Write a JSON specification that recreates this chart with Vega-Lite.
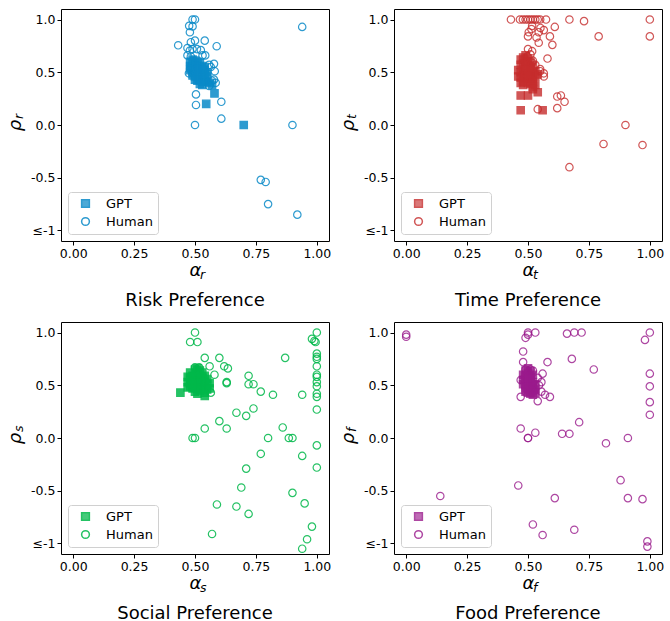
{
"$schema": "https://vega.github.io/schema/vega-lite/v6.json",
"padding": {"left": 6, "top": 8, "right": 2, "bottom": 0},
"columns": 2,
"spacing": {"row": 11, "column": 7},
"config": {
  "font": "DejaVu Sans",
  "view": {"stroke": "black", "strokeWidth": 1},
  "axis": {"domain": false, "grid": false, "tickColor": "black", "tickSize": 4, "tickWidth": 1, "labelColor": "black", "labelFontSize": 12.5, "labelPadding": 2, "titleColor": "black", "titleFontSize": 18, "titleFontWeight": "normal", "titleFontStyle": "italic"},
  "axisX": {"titlePadding": 2},
  "axisY": {"titlePadding": 6},
  "legend": {"orient": "bottom-left", "offset": 7, "strokeColor": "#d0d0d0", "fillColor": "white", "cornerRadius": 3, "padding": 5, "labelFontSize": 13, "labelColor": "black", "symbolSize": 60, "rowPadding": 3, "labelOffset": 14, "symbolOffset": 6},
  "title": {"orient": "bottom", "fontSize": 18, "fontWeight": "normal", "color": "black", "offset": 10}
},
"datasets": {"pts": [
{"p":"risk","g":"GPT","a":0.48,"r":0.60},{"p":"risk","g":"GPT","a":0.49,"r":0.62},{"p":"risk","g":"GPT","a":0.50,"r":0.61},{"p":"risk","g":"GPT","a":0.51,"r":0.60},{"p":"risk","g":"GPT","a":0.52,"r":0.59},{"p":"risk","g":"GPT","a":0.48,"r":0.56},{"p":"risk","g":"GPT","a":0.49,"r":0.55},{"p":"risk","g":"GPT","a":0.50,"r":0.57},{"p":"risk","g":"GPT","a":0.51,"r":0.56},{"p":"risk","g":"GPT","a":0.52,"r":0.55},{"p":"risk","g":"GPT","a":0.53,"r":0.56},{"p":"risk","g":"GPT","a":0.54,"r":0.55},{"p":"risk","g":"GPT","a":0.48,"r":0.52},{"p":"risk","g":"GPT","a":0.49,"r":0.50},{"p":"risk","g":"GPT","a":0.50,"r":0.51},{"p":"risk","g":"GPT","a":0.51,"r":0.52},{"p":"risk","g":"GPT","a":0.52,"r":0.50},{"p":"risk","g":"GPT","a":0.53,"r":0.51},{"p":"risk","g":"GPT","a":0.54,"r":0.52},{"p":"risk","g":"GPT","a":0.55,"r":0.50},{"p":"risk","g":"GPT","a":0.49,"r":0.47},{"p":"risk","g":"GPT","a":0.50,"r":0.46},{"p":"risk","g":"GPT","a":0.51,"r":0.47},{"p":"risk","g":"GPT","a":0.52,"r":0.46},{"p":"risk","g":"GPT","a":0.53,"r":0.45},{"p":"risk","g":"GPT","a":0.54,"r":0.47},{"p":"risk","g":"GPT","a":0.55,"r":0.46},{"p":"risk","g":"GPT","a":0.50,"r":0.43},{"p":"risk","g":"GPT","a":0.51,"r":0.42},{"p":"risk","g":"GPT","a":0.52,"r":0.43},{"p":"risk","g":"GPT","a":0.53,"r":0.41},{"p":"risk","g":"GPT","a":0.54,"r":0.42},{"p":"risk","g":"GPT","a":0.55,"r":0.41},{"p":"risk","g":"GPT","a":0.52,"r":0.39},{"p":"risk","g":"GPT","a":0.53,"r":0.38},{"p":"risk","g":"GPT","a":0.56,"r":0.40},{"p":"risk","g":"GPT","a":0.57,"r":0.38},{"p":"risk","g":"GPT","a":0.51,"r":0.49},{"p":"risk","g":"GPT","a":0.50,"r":0.53},{"p":"risk","g":"GPT","a":0.53,"r":0.48},{"p":"risk","g":"GPT","a":0.546,"r":0.20},{"p":"risk","g":"GPT","a":0.58,"r":0.30},{"p":"risk","g":"GPT","a":0.70,"r":0.0},
{"p":"risk","g":"Human","a":0.49,"r":1.0},{"p":"risk","g":"Human","a":0.50,"r":1.0},{"p":"risk","g":"Human","a":0.476,"r":0.94},{"p":"risk","g":"Human","a":0.49,"r":0.935},{"p":"risk","g":"Human","a":0.479,"r":0.88},{"p":"risk","g":"Human","a":0.431,"r":0.756},{"p":"risk","g":"Human","a":0.483,"r":0.785},{"p":"risk","g":"Human","a":0.50,"r":0.80},{"p":"risk","g":"Human","a":0.54,"r":0.80},{"p":"risk","g":"Human","a":0.589,"r":0.747},{"p":"risk","g":"Human","a":0.469,"r":0.73},{"p":"risk","g":"Human","a":0.479,"r":0.706},{"p":"risk","g":"Human","a":0.49,"r":0.72},{"p":"risk","g":"Human","a":0.508,"r":0.72},{"p":"risk","g":"Human","a":0.524,"r":0.71},{"p":"risk","g":"Human","a":0.531,"r":0.66},{"p":"risk","g":"Human","a":0.542,"r":0.66},{"p":"risk","g":"Human","a":0.469,"r":0.66},{"p":"risk","g":"Human","a":0.483,"r":0.65},{"p":"risk","g":"Human","a":0.558,"r":0.57},{"p":"risk","g":"Human","a":0.578,"r":0.58},{"p":"risk","g":"Human","a":0.581,"r":0.51},{"p":"risk","g":"Human","a":0.578,"r":0.43},{"p":"risk","g":"Human","a":0.585,"r":0.40},{"p":"risk","g":"Human","a":0.558,"r":0.37},{"p":"risk","g":"Human","a":0.504,"r":0.29},{"p":"risk","g":"Human","a":0.504,"r":0.19},{"p":"risk","g":"Human","a":0.608,"r":0.22},{"p":"risk","g":"Human","a":0.608,"r":0.06},{"p":"risk","g":"Human","a":0.475,"r":0.49},{"p":"risk","g":"Human","a":0.48,"r":0.53},{"p":"risk","g":"Human","a":0.50,"r":0.0},{"p":"risk","g":"Human","a":0.90,"r":0.0},{"p":"risk","g":"Human","a":0.94,"r":0.93},{"p":"risk","g":"Human","a":0.77,"r":-0.52},{"p":"risk","g":"Human","a":0.79,"r":-0.54},{"p":"risk","g":"Human","a":0.80,"r":-0.75},{"p":"risk","g":"Human","a":0.92,"r":-0.85},{"p":"risk","g":"Human","a":0.57,"r":0.42},{"p":"risk","g":"Human","a":0.565,"r":0.55},
{"p":"time","g":"GPT","a":0.47,"r":0.62},{"p":"time","g":"GPT","a":0.48,"r":0.64},{"p":"time","g":"GPT","a":0.49,"r":0.66},{"p":"time","g":"GPT","a":0.50,"r":0.63},{"p":"time","g":"GPT","a":0.51,"r":0.60},{"p":"time","g":"GPT","a":0.47,"r":0.57},{"p":"time","g":"GPT","a":0.48,"r":0.58},{"p":"time","g":"GPT","a":0.49,"r":0.56},{"p":"time","g":"GPT","a":0.50,"r":0.57},{"p":"time","g":"GPT","a":0.51,"r":0.55},{"p":"time","g":"GPT","a":0.52,"r":0.56},{"p":"time","g":"GPT","a":0.46,"r":0.52},{"p":"time","g":"GPT","a":0.47,"r":0.50},{"p":"time","g":"GPT","a":0.48,"r":0.52},{"p":"time","g":"GPT","a":0.49,"r":0.51},{"p":"time","g":"GPT","a":0.50,"r":0.50},{"p":"time","g":"GPT","a":0.51,"r":0.52},{"p":"time","g":"GPT","a":0.52,"r":0.50},{"p":"time","g":"GPT","a":0.53,"r":0.51},{"p":"time","g":"GPT","a":0.46,"r":0.46},{"p":"time","g":"GPT","a":0.47,"r":0.45},{"p":"time","g":"GPT","a":0.48,"r":0.47},{"p":"time","g":"GPT","a":0.49,"r":0.44},{"p":"time","g":"GPT","a":0.50,"r":0.46},{"p":"time","g":"GPT","a":0.51,"r":0.45},{"p":"time","g":"GPT","a":0.52,"r":0.44},{"p":"time","g":"GPT","a":0.53,"r":0.46},{"p":"time","g":"GPT","a":0.54,"r":0.48},{"p":"time","g":"GPT","a":0.47,"r":0.40},{"p":"time","g":"GPT","a":0.48,"r":0.41},{"p":"time","g":"GPT","a":0.50,"r":0.40},{"p":"time","g":"GPT","a":0.51,"r":0.39},{"p":"time","g":"GPT","a":0.52,"r":0.41},{"p":"time","g":"GPT","a":0.53,"r":0.38},{"p":"time","g":"GPT","a":0.52,"r":0.36},{"p":"time","g":"GPT","a":0.49,"r":0.54},{"p":"time","g":"GPT","a":0.50,"r":0.48},{"p":"time","g":"GPT","a":0.48,"r":0.38},{"p":"time","g":"GPT","a":0.47,"r":0.28},{"p":"time","g":"GPT","a":0.50,"r":0.28},{"p":"time","g":"GPT","a":0.54,"r":0.31},{"p":"time","g":"GPT","a":0.47,"r":0.14},{"p":"time","g":"GPT","a":0.56,"r":0.14},{"p":"time","g":"GPT","a":0.52,"r":0.34},
{"p":"time","g":"Human","a":0.43,"r":1.0},{"p":"time","g":"Human","a":0.467,"r":1.0},{"p":"time","g":"Human","a":0.479,"r":1.0},{"p":"time","g":"Human","a":0.49,"r":1.0},{"p":"time","g":"Human","a":0.50,"r":1.0},{"p":"time","g":"Human","a":0.51,"r":1.0},{"p":"time","g":"Human","a":0.52,"r":1.0},{"p":"time","g":"Human","a":0.53,"r":1.0},{"p":"time","g":"Human","a":0.54,"r":1.0},{"p":"time","g":"Human","a":0.55,"r":1.0},{"p":"time","g":"Human","a":0.574,"r":1.0},{"p":"time","g":"Human","a":0.67,"r":1.0},{"p":"time","g":"Human","a":0.73,"r":0.985},{"p":"time","g":"Human","a":1.0,"r":1.0},{"p":"time","g":"Human","a":0.61,"r":0.93},{"p":"time","g":"Human","a":0.503,"r":0.88},{"p":"time","g":"Human","a":0.544,"r":0.88},{"p":"time","g":"Human","a":0.565,"r":0.90},{"p":"time","g":"Human","a":0.551,"r":0.92},{"p":"time","g":"Human","a":0.517,"r":0.94},{"p":"time","g":"Human","a":0.514,"r":0.91},{"p":"time","g":"Human","a":0.50,"r":0.84},{"p":"time","g":"Human","a":0.535,"r":0.83},{"p":"time","g":"Human","a":0.59,"r":0.84},{"p":"time","g":"Human","a":0.79,"r":0.84},{"p":"time","g":"Human","a":1.0,"r":0.84},{"p":"time","g":"Human","a":0.544,"r":0.78},{"p":"time","g":"Human","a":0.60,"r":0.76},{"p":"time","g":"Human","a":0.50,"r":0.72},{"p":"time","g":"Human","a":0.517,"r":0.70},{"p":"time","g":"Human","a":0.497,"r":0.65},{"p":"time","g":"Human","a":0.51,"r":0.67},{"p":"time","g":"Human","a":0.58,"r":0.63},{"p":"time","g":"Human","a":0.52,"r":0.61},{"p":"time","g":"Human","a":0.517,"r":0.59},{"p":"time","g":"Human","a":0.55,"r":0.51},{"p":"time","g":"Human","a":0.565,"r":0.49},{"p":"time","g":"Human","a":0.565,"r":0.46},{"p":"time","g":"Human","a":0.55,"r":0.53},{"p":"time","g":"Human","a":0.62,"r":0.27},{"p":"time","g":"Human","a":0.635,"r":0.28},{"p":"time","g":"Human","a":0.65,"r":0.22},{"p":"time","g":"Human","a":0.62,"r":0.16},{"p":"time","g":"Human","a":0.54,"r":0.15},{"p":"time","g":"Human","a":0.90,"r":0.0},{"p":"time","g":"Human","a":0.81,"r":-0.18},{"p":"time","g":"Human","a":0.97,"r":-0.19},{"p":"time","g":"Human","a":0.67,"r":-0.40},{"p":"time","g":"Human","a":0.53,"r":0.57},{"p":"time","g":"Human","a":0.49,"r":0.60},
{"p":"social","g":"GPT","a":0.48,"r":0.62},{"p":"social","g":"GPT","a":0.50,"r":0.65},{"p":"social","g":"GPT","a":0.51,"r":0.66},{"p":"social","g":"GPT","a":0.52,"r":0.64},{"p":"social","g":"GPT","a":0.53,"r":0.62},{"p":"social","g":"GPT","a":0.47,"r":0.58},{"p":"social","g":"GPT","a":0.48,"r":0.57},{"p":"social","g":"GPT","a":0.49,"r":0.59},{"p":"social","g":"GPT","a":0.50,"r":0.58},{"p":"social","g":"GPT","a":0.51,"r":0.60},{"p":"social","g":"GPT","a":0.52,"r":0.58},{"p":"social","g":"GPT","a":0.53,"r":0.57},{"p":"social","g":"GPT","a":0.54,"r":0.59},{"p":"social","g":"GPT","a":0.55,"r":0.56},{"p":"social","g":"GPT","a":0.47,"r":0.53},{"p":"social","g":"GPT","a":0.48,"r":0.52},{"p":"social","g":"GPT","a":0.49,"r":0.54},{"p":"social","g":"GPT","a":0.50,"r":0.53},{"p":"social","g":"GPT","a":0.51,"r":0.52},{"p":"social","g":"GPT","a":0.52,"r":0.54},{"p":"social","g":"GPT","a":0.53,"r":0.52},{"p":"social","g":"GPT","a":0.54,"r":0.53},{"p":"social","g":"GPT","a":0.55,"r":0.51},{"p":"social","g":"GPT","a":0.56,"r":0.52},{"p":"social","g":"GPT","a":0.47,"r":0.48},{"p":"social","g":"GPT","a":0.48,"r":0.49},{"p":"social","g":"GPT","a":0.49,"r":0.47},{"p":"social","g":"GPT","a":0.50,"r":0.48},{"p":"social","g":"GPT","a":0.51,"r":0.47},{"p":"social","g":"GPT","a":0.52,"r":0.49},{"p":"social","g":"GPT","a":0.53,"r":0.47},{"p":"social","g":"GPT","a":0.54,"r":0.48},{"p":"social","g":"GPT","a":0.55,"r":0.46},{"p":"social","g":"GPT","a":0.50,"r":0.44},{"p":"social","g":"GPT","a":0.52,"r":0.45},{"p":"social","g":"GPT","a":0.54,"r":0.43},{"p":"social","g":"GPT","a":0.56,"r":0.47},{"p":"social","g":"GPT","a":0.44,"r":0.43},{"p":"social","g":"GPT","a":0.54,"r":0.40},{"p":"social","g":"GPT","a":0.51,"r":0.42},
{"p":"social","g":"Human","a":0.50,"r":1.0},{"p":"social","g":"Human","a":0.48,"r":0.91},{"p":"social","g":"Human","a":0.51,"r":0.91},{"p":"social","g":"Human","a":0.54,"r":0.76},{"p":"social","g":"Human","a":0.60,"r":0.76},{"p":"social","g":"Human","a":0.87,"r":0.76},{"p":"social","g":"Human","a":0.50,"r":0.67},{"p":"social","g":"Human","a":0.56,"r":0.68},{"p":"social","g":"Human","a":0.62,"r":0.68},{"p":"social","g":"Human","a":0.635,"r":0.66},{"p":"social","g":"Human","a":0.58,"r":0.60},{"p":"social","g":"Human","a":0.72,"r":0.59},{"p":"social","g":"Human","a":0.63,"r":0.52},{"p":"social","g":"Human","a":0.72,"r":0.51},{"p":"social","g":"Human","a":0.74,"r":0.51},{"p":"social","g":"Human","a":0.77,"r":0.44},{"p":"social","g":"Human","a":0.82,"r":0.41},{"p":"social","g":"Human","a":0.94,"r":0.41},{"p":"social","g":"Human","a":0.565,"r":0.43},{"p":"social","g":"Human","a":0.67,"r":0.24},{"p":"social","g":"Human","a":0.71,"r":0.21},{"p":"social","g":"Human","a":0.74,"r":0.28},{"p":"social","g":"Human","a":0.60,"r":0.16},{"p":"social","g":"Human","a":0.63,"r":0.09},{"p":"social","g":"Human","a":0.54,"r":0.09},{"p":"social","g":"Human","a":0.86,"r":0.10},{"p":"social","g":"Human","a":0.49,"r":0.0},{"p":"social","g":"Human","a":0.50,"r":0.0},{"p":"social","g":"Human","a":0.80,"r":0.0},{"p":"social","g":"Human","a":0.885,"r":0.0},{"p":"social","g":"Human","a":0.90,"r":0.0},{"p":"social","g":"Human","a":0.77,"r":-0.15},{"p":"social","g":"Human","a":0.94,"r":-0.17},{"p":"social","g":"Human","a":0.71,"r":-0.29},{"p":"social","g":"Human","a":0.69,"r":-0.47},{"p":"social","g":"Human","a":0.90,"r":-0.52},{"p":"social","g":"Human","a":0.59,"r":-0.63},{"p":"social","g":"Human","a":0.67,"r":-0.65},{"p":"social","g":"Human","a":0.95,"r":-0.62},{"p":"social","g":"Human","a":0.72,"r":-0.72},{"p":"social","g":"Human","a":0.57,"r":-0.91},{"p":"social","g":"Human","a":0.98,"r":-0.84},{"p":"social","g":"Human","a":0.96,"r":-0.96},{"p":"social","g":"Human","a":0.94,"r":-1.05},{"p":"social","g":"Human","a":1.0,"r":1.0},{"p":"social","g":"Human","a":0.98,"r":0.94},{"p":"social","g":"Human","a":0.99,"r":0.92},{"p":"social","g":"Human","a":0.995,"r":0.91},{"p":"social","g":"Human","a":1.0,"r":0.80},{"p":"social","g":"Human","a":1.0,"r":0.77},{"p":"social","g":"Human","a":1.0,"r":0.75},{"p":"social","g":"Human","a":1.0,"r":0.68},{"p":"social","g":"Human","a":1.0,"r":0.60},{"p":"social","g":"Human","a":1.0,"r":0.58},{"p":"social","g":"Human","a":1.0,"r":0.53},{"p":"social","g":"Human","a":1.0,"r":0.49},{"p":"social","g":"Human","a":1.0,"r":0.42},{"p":"social","g":"Human","a":1.0,"r":0.39},{"p":"social","g":"Human","a":1.0,"r":0.27},{"p":"social","g":"Human","a":1.0,"r":-0.07},{"p":"social","g":"Human","a":1.0,"r":-0.28},{"p":"social","g":"Human","a":0.517,"r":0.67},{"p":"social","g":"Human","a":0.63,"r":0.53},
{"p":"food","g":"GPT","a":0.49,"r":0.64},{"p":"food","g":"GPT","a":0.50,"r":0.66},{"p":"food","g":"GPT","a":0.51,"r":0.63},{"p":"food","g":"GPT","a":0.48,"r":0.60},{"p":"food","g":"GPT","a":0.49,"r":0.59},{"p":"food","g":"GPT","a":0.50,"r":0.61},{"p":"food","g":"GPT","a":0.51,"r":0.58},{"p":"food","g":"GPT","a":0.52,"r":0.60},{"p":"food","g":"GPT","a":0.48,"r":0.55},{"p":"food","g":"GPT","a":0.49,"r":0.56},{"p":"food","g":"GPT","a":0.50,"r":0.54},{"p":"food","g":"GPT","a":0.51,"r":0.55},{"p":"food","g":"GPT","a":0.52,"r":0.53},{"p":"food","g":"GPT","a":0.48,"r":0.51},{"p":"food","g":"GPT","a":0.49,"r":0.50},{"p":"food","g":"GPT","a":0.50,"r":0.52},{"p":"food","g":"GPT","a":0.51,"r":0.49},{"p":"food","g":"GPT","a":0.52,"r":0.50},{"p":"food","g":"GPT","a":0.53,"r":0.51},{"p":"food","g":"GPT","a":0.49,"r":0.47},{"p":"food","g":"GPT","a":0.50,"r":0.46},{"p":"food","g":"GPT","a":0.51,"r":0.47},{"p":"food","g":"GPT","a":0.52,"r":0.45},{"p":"food","g":"GPT","a":0.53,"r":0.46},{"p":"food","g":"GPT","a":0.50,"r":0.43},{"p":"food","g":"GPT","a":0.51,"r":0.42},{"p":"food","g":"GPT","a":0.52,"r":0.41},{"p":"food","g":"GPT","a":0.53,"r":0.43},{"p":"food","g":"GPT","a":0.49,"r":0.44},{"p":"food","g":"GPT","a":0.50,"r":0.57},
{"p":"food","g":"Human","a":0.0,"r":0.98},{"p":"food","g":"Human","a":0.0,"r":0.96},{"p":"food","g":"Human","a":0.50,"r":1.0},{"p":"food","g":"Human","a":0.50,"r":0.98},{"p":"food","g":"Human","a":0.53,"r":1.0},{"p":"food","g":"Human","a":0.49,"r":0.95},{"p":"food","g":"Human","a":0.66,"r":0.99},{"p":"food","g":"Human","a":0.69,"r":1.0},{"p":"food","g":"Human","a":0.72,"r":1.0},{"p":"food","g":"Human","a":1.0,"r":1.0},{"p":"food","g":"Human","a":0.98,"r":0.93},{"p":"food","g":"Human","a":0.48,"r":0.82},{"p":"food","g":"Human","a":0.48,"r":0.72},{"p":"food","g":"Human","a":0.58,"r":0.72},{"p":"food","g":"Human","a":0.68,"r":0.75},{"p":"food","g":"Human","a":0.77,"r":0.65},{"p":"food","g":"Human","a":1.0,"r":0.61},{"p":"food","g":"Human","a":1.0,"r":0.49},{"p":"food","g":"Human","a":1.0,"r":0.34},{"p":"food","g":"Human","a":1.0,"r":0.22},{"p":"food","g":"Human","a":0.56,"r":0.61},{"p":"food","g":"Human","a":0.49,"r":0.65},{"p":"food","g":"Human","a":0.51,"r":0.65},{"p":"food","g":"Human","a":0.52,"r":0.64},{"p":"food","g":"Human","a":0.54,"r":0.57},{"p":"food","g":"Human","a":0.555,"r":0.53},{"p":"food","g":"Human","a":0.545,"r":0.50},{"p":"food","g":"Human","a":0.555,"r":0.44},{"p":"food","g":"Human","a":0.57,"r":0.41},{"p":"food","g":"Human","a":0.59,"r":0.39},{"p":"food","g":"Human","a":0.54,"r":0.35},{"p":"food","g":"Human","a":0.47,"r":0.39},{"p":"food","g":"Human","a":0.47,"r":0.55},{"p":"food","g":"Human","a":0.47,"r":0.09},{"p":"food","g":"Human","a":0.53,"r":0.05},{"p":"food","g":"Human","a":0.64,"r":0.04},{"p":"food","g":"Human","a":0.67,"r":0.04},{"p":"food","g":"Human","a":0.71,"r":0.15},{"p":"food","g":"Human","a":0.50,"r":0.0},{"p":"food","g":"Human","a":0.50,"r":0.0},{"p":"food","g":"Human","a":0.82,"r":-0.05},{"p":"food","g":"Human","a":0.91,"r":0.0},{"p":"food","g":"Human","a":0.88,"r":-0.40},{"p":"food","g":"Human","a":0.46,"r":-0.45},{"p":"food","g":"Human","a":0.14,"r":-0.55},{"p":"food","g":"Human","a":0.61,"r":-0.57},{"p":"food","g":"Human","a":0.91,"r":-0.57},{"p":"food","g":"Human","a":0.97,"r":-0.58},{"p":"food","g":"Human","a":0.52,"r":-0.82},{"p":"food","g":"Human","a":0.69,"r":-0.87},{"p":"food","g":"Human","a":0.56,"r":-0.92},{"p":"food","g":"Human","a":0.99,"r":-0.98},{"p":"food","g":"Human","a":0.99,"r":-1.03}
]},
"concat": [
{"width": 268, "height": 232, "title": {"text": "Risk Preference"},
 "resolve": {"scale": {"fill": "independent", "shape": "independent"}},
 "layer": [
  {"data": {"name": "pts"}, "transform": [{"filter": "datum.p == 'risk'"}],
   "mark": {"type": "point", "stroke": "#0a8ac8", "strokeWidth": 1.2, "opacity": 0.85, "size": 55},
   "encoding": {
    "x": {"field": "a", "type": "quantitative", "scale": {"domain": [-0.05, 1.05], "nice": false, "zero": false}, "axis": {"values": [0, 0.25, 0.5, 0.75, 1], "format": ".2f", "title": "α"}},
    "y": {"field": "r", "type": "quantitative", "scale": {"domain": [-1.1, 1.1], "nice": false, "zero": false}, "axis": {"values": [-1, -0.5, 0, 0.5, 1], "labelExpr": "datum.value <= -1 ? '≤-1' : (datum.value < 0 ? '-' + format(-datum.value, '.1f') : format(datum.value, '.1f'))", "title": "ρ"}},
    "shape": {"field": "g", "type": "nominal", "scale": {"domain": ["GPT", "Human"], "range": ["square", "circle"]}, "legend": {"title": null}},
    "fill": {"field": "g", "type": "nominal", "scale": {"domain": ["GPT", "Human"], "range": ["#0a8ac8", "transparent"]}, "legend": {"title": null}}
   }},
  {"data": {"values": [{}]}, "mark": {"type": "text", "text": "r", "fontStyle": "italic", "fontSize": 12.5, "align": "left", "baseline": "alphabetic", "dx": 5, "dy": 38},
   "encoding": {"x": {"datum": 0.5, "type": "quantitative", "axis": {"values": [0, 0.25, 0.5, 0.75, 1], "format": ".2f", "title": "α"}}, "y": {"datum": -1.1, "type": "quantitative", "axis": {"values": [-1, -0.5, 0, 0.5, 1], "labelExpr": "datum.value <= -1 ? '≤-1' : (datum.value < 0 ? '-' + format(-datum.value, '.1f') : format(datum.value, '.1f'))", "title": "ρ"}}}},
  {"data": {"values": [{}]}, "mark": {"type": "text", "text": "r", "fontStyle": "italic", "fontSize": 12.5, "align": "left", "baseline": "alphabetic", "angle": 270, "dx": 6, "dy": -38},
   "encoding": {"x": {"datum": -0.05, "type": "quantitative", "axis": {"values": [0, 0.25, 0.5, 0.75, 1], "format": ".2f", "title": "α"}}, "y": {"datum": 0, "type": "quantitative", "axis": {"values": [-1, -0.5, 0, 0.5, 1], "labelExpr": "datum.value <= -1 ? '≤-1' : (datum.value < 0 ? '-' + format(-datum.value, '.1f') : format(datum.value, '.1f'))", "title": "ρ"}}}}
 ]},
{"width": 268, "height": 232, "title": {"text": "Time Preference"},
 "resolve": {"scale": {"fill": "independent", "shape": "independent"}},
 "layer": [
  {"data": {"name": "pts"}, "transform": [{"filter": "datum.p == 'time'"}],
   "mark": {"type": "point", "stroke": "#c62d2d", "strokeWidth": 1.2, "opacity": 0.8, "size": 55},
   "encoding": {
    "x": {"field": "a", "type": "quantitative", "scale": {"domain": [-0.05, 1.05], "nice": false, "zero": false}, "axis": {"values": [0, 0.25, 0.5, 0.75, 1], "format": ".2f", "title": "α"}},
    "y": {"field": "r", "type": "quantitative", "scale": {"domain": [-1.1, 1.1], "nice": false, "zero": false}, "axis": {"values": [-1, -0.5, 0, 0.5, 1], "labelExpr": "datum.value <= -1 ? '≤-1' : (datum.value < 0 ? '-' + format(-datum.value, '.1f') : format(datum.value, '.1f'))", "title": "ρ"}},
    "shape": {"field": "g", "type": "nominal", "scale": {"domain": ["GPT", "Human"], "range": ["square", "circle"]}, "legend": {"title": null}},
    "fill": {"field": "g", "type": "nominal", "scale": {"domain": ["GPT", "Human"], "range": ["#c62d2d", "transparent"]}, "legend": {"title": null}}
   }},
  {"data": {"values": [{}]}, "mark": {"type": "text", "text": "t", "fontStyle": "italic", "fontSize": 12.5, "align": "left", "baseline": "alphabetic", "dx": 5, "dy": 38},
   "encoding": {"x": {"datum": 0.5, "type": "quantitative", "axis": {"values": [0, 0.25, 0.5, 0.75, 1], "format": ".2f", "title": "α"}}, "y": {"datum": -1.1, "type": "quantitative", "axis": {"values": [-1, -0.5, 0, 0.5, 1], "labelExpr": "datum.value <= -1 ? '≤-1' : (datum.value < 0 ? '-' + format(-datum.value, '.1f') : format(datum.value, '.1f'))", "title": "ρ"}}}},
  {"data": {"values": [{}]}, "mark": {"type": "text", "text": "t", "fontStyle": "italic", "fontSize": 12.5, "align": "left", "baseline": "alphabetic", "angle": 270, "dx": 6, "dy": -38},
   "encoding": {"x": {"datum": -0.05, "type": "quantitative", "axis": {"values": [0, 0.25, 0.5, 0.75, 1], "format": ".2f", "title": "α"}}, "y": {"datum": 0, "type": "quantitative", "axis": {"values": [-1, -0.5, 0, 0.5, 1], "labelExpr": "datum.value <= -1 ? '≤-1' : (datum.value < 0 ? '-' + format(-datum.value, '.1f') : format(datum.value, '.1f'))", "title": "ρ"}}}}
 ]},
{"width": 268, "height": 232, "title": {"text": "Social Preference"},
 "resolve": {"scale": {"fill": "independent", "shape": "independent"}},
 "layer": [
  {"data": {"name": "pts"}, "transform": [{"filter": "datum.p == 'social'"}],
   "mark": {"type": "point", "stroke": "#00b84a", "strokeWidth": 1.2, "opacity": 0.85, "size": 55},
   "encoding": {
    "x": {"field": "a", "type": "quantitative", "scale": {"domain": [-0.05, 1.05], "nice": false, "zero": false}, "axis": {"values": [0, 0.25, 0.5, 0.75, 1], "format": ".2f", "title": "α"}},
    "y": {"field": "r", "type": "quantitative", "scale": {"domain": [-1.1, 1.1], "nice": false, "zero": false}, "axis": {"values": [-1, -0.5, 0, 0.5, 1], "labelExpr": "datum.value <= -1 ? '≤-1' : (datum.value < 0 ? '-' + format(-datum.value, '.1f') : format(datum.value, '.1f'))", "title": "ρ"}},
    "shape": {"field": "g", "type": "nominal", "scale": {"domain": ["GPT", "Human"], "range": ["square", "circle"]}, "legend": {"title": null}},
    "fill": {"field": "g", "type": "nominal", "scale": {"domain": ["GPT", "Human"], "range": ["#00b84a", "transparent"]}, "legend": {"title": null}}
   }},
  {"data": {"values": [{}]}, "mark": {"type": "text", "text": "s", "fontStyle": "italic", "fontSize": 12.5, "align": "left", "baseline": "alphabetic", "dx": 5, "dy": 38},
   "encoding": {"x": {"datum": 0.5, "type": "quantitative", "axis": {"values": [0, 0.25, 0.5, 0.75, 1], "format": ".2f", "title": "α"}}, "y": {"datum": -1.1, "type": "quantitative", "axis": {"values": [-1, -0.5, 0, 0.5, 1], "labelExpr": "datum.value <= -1 ? '≤-1' : (datum.value < 0 ? '-' + format(-datum.value, '.1f') : format(datum.value, '.1f'))", "title": "ρ"}}}},
  {"data": {"values": [{}]}, "mark": {"type": "text", "text": "s", "fontStyle": "italic", "fontSize": 12.5, "align": "left", "baseline": "alphabetic", "angle": 270, "dx": 6, "dy": -38},
   "encoding": {"x": {"datum": -0.05, "type": "quantitative", "axis": {"values": [0, 0.25, 0.5, 0.75, 1], "format": ".2f", "title": "α"}}, "y": {"datum": 0, "type": "quantitative", "axis": {"values": [-1, -0.5, 0, 0.5, 1], "labelExpr": "datum.value <= -1 ? '≤-1' : (datum.value < 0 ? '-' + format(-datum.value, '.1f') : format(datum.value, '.1f'))", "title": "ρ"}}}}
 ]},
{"width": 268, "height": 232, "title": {"text": "Food Preference"},
 "resolve": {"scale": {"fill": "independent", "shape": "independent"}},
 "layer": [
  {"data": {"name": "pts"}, "transform": [{"filter": "datum.p == 'food'"}],
   "mark": {"type": "point", "stroke": "#9a1a8c", "strokeWidth": 1.2, "opacity": 0.8, "size": 55},
   "encoding": {
    "x": {"field": "a", "type": "quantitative", "scale": {"domain": [-0.05, 1.05], "nice": false, "zero": false}, "axis": {"values": [0, 0.25, 0.5, 0.75, 1], "format": ".2f", "title": "α"}},
    "y": {"field": "r", "type": "quantitative", "scale": {"domain": [-1.1, 1.1], "nice": false, "zero": false}, "axis": {"values": [-1, -0.5, 0, 0.5, 1], "labelExpr": "datum.value <= -1 ? '≤-1' : (datum.value < 0 ? '-' + format(-datum.value, '.1f') : format(datum.value, '.1f'))", "title": "ρ"}},
    "shape": {"field": "g", "type": "nominal", "scale": {"domain": ["GPT", "Human"], "range": ["square", "circle"]}, "legend": {"title": null}},
    "fill": {"field": "g", "type": "nominal", "scale": {"domain": ["GPT", "Human"], "range": ["#9a1a8c", "transparent"]}, "legend": {"title": null}}
   }},
  {"data": {"values": [{}]}, "mark": {"type": "text", "text": "f", "fontStyle": "italic", "fontSize": 12.5, "align": "left", "baseline": "alphabetic", "dx": 5, "dy": 38},
   "encoding": {"x": {"datum": 0.5, "type": "quantitative", "axis": {"values": [0, 0.25, 0.5, 0.75, 1], "format": ".2f", "title": "α"}}, "y": {"datum": -1.1, "type": "quantitative", "axis": {"values": [-1, -0.5, 0, 0.5, 1], "labelExpr": "datum.value <= -1 ? '≤-1' : (datum.value < 0 ? '-' + format(-datum.value, '.1f') : format(datum.value, '.1f'))", "title": "ρ"}}}},
  {"data": {"values": [{}]}, "mark": {"type": "text", "text": "f", "fontStyle": "italic", "fontSize": 12.5, "align": "left", "baseline": "alphabetic", "angle": 270, "dx": 6, "dy": -38},
   "encoding": {"x": {"datum": -0.05, "type": "quantitative", "axis": {"values": [0, 0.25, 0.5, 0.75, 1], "format": ".2f", "title": "α"}}, "y": {"datum": 0, "type": "quantitative", "axis": {"values": [-1, -0.5, 0, 0.5, 1], "labelExpr": "datum.value <= -1 ? '≤-1' : (datum.value < 0 ? '-' + format(-datum.value, '.1f') : format(datum.value, '.1f'))", "title": "ρ"}}}}
 ]}
],
"resolve": {"scale": {"fill": "independent", "shape": "independent", "x": "independent", "y": "independent"}, "legend": {"fill": "independent", "shape": "independent"}}
}
